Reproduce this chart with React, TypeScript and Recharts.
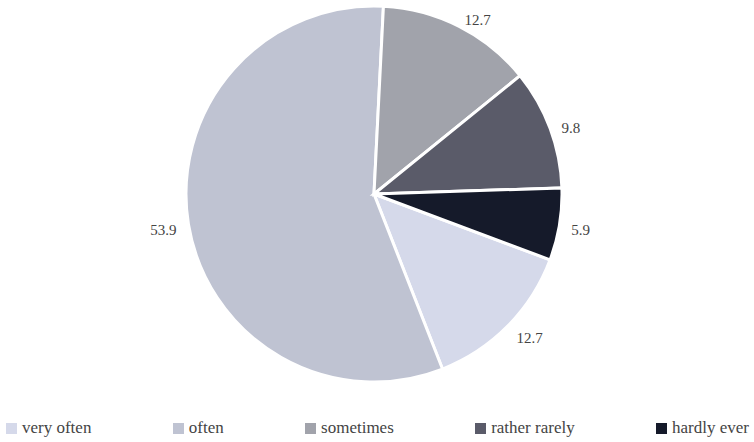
import React from "react";
import { PieChart, Pie, Cell, Legend } from "recharts";

const categories = ["very often", "often", "sometimes", "rather rarely", "hardly ever"];
const shares = [12.7, 53.9, 12.7, 9.8, 5.9];
const colors = ["#d5d9ea", "#bfc3d2", "#a1a3ab", "#5a5b69", "#151a2a"];

const data = categories.map((name, i) => ({ name, value: shares[i] }));

const FONT = "Liberation Serif, Times New Roman, DejaVu Serif, serif";
const RADIAN = Math.PI / 180;

function renderLabel(props: any) {
  const { cx, cy, midAngle, outerRadius, value } = props;
  const r = outerRadius + 12;
  const x = cx + r * Math.cos(-midAngle * RADIAN);
  const y = cy + r * Math.sin(-midAngle * RADIAN);
  return (
    <text
      x={x}
      y={y + 4}
      fill="#444"
      fontSize={15}
      style={{ fontFamily: FONT }}
      textAnchor={x > cx ? "start" : "end"}
      dominantBaseline="central"
    >
      {value}
    </text>
  );
}

function renderLegend() {
  return (
    <div
      style={{
        display: "flex",
        justifyContent: "space-between",
        fontFamily: FONT,
        fontSize: 17,
        color: "#444",
      }}
    >
      {categories.map((c, i) => (
        <div key={c} style={{ display: "flex", alignItems: "center" }}>
          <span
            style={{
              display: "inline-block",
              width: 11,
              height: 11,
              background: colors[i],
              marginRight: 5,
            }}
          />
          <span>{c}</span>
        </div>
      ))}
    </div>
  );
}

export default function App() {
  return (
    <div style={{ position: "absolute", left: 0, top: 0, width: 754, height: 442, background: "#fff", fontFamily: FONT }}>
      <PieChart width={754} height={442} style={{ fontFamily: FONT }}>
        <Pie
          data={data}
          dataKey="value"
          nameKey="name"
          cx={369}
          cy={189}
          outerRadius={188}
          startAngle={-20.5}
          endAngle={-380.5}
          stroke="#fff"
          strokeWidth={3}
          label={renderLabel}
          labelLine={false}
          isAnimationActive={false}
        >
          {data.map((d, i) => (
            <Cell key={d.name} fill={colors[i]} />
          ))}
        </Pie>
        <Legend
          content={renderLegend}
          wrapperStyle={{ left: 6, width: 743, top: 418 }}
        />
      </PieChart>
    </div>
  );
}
